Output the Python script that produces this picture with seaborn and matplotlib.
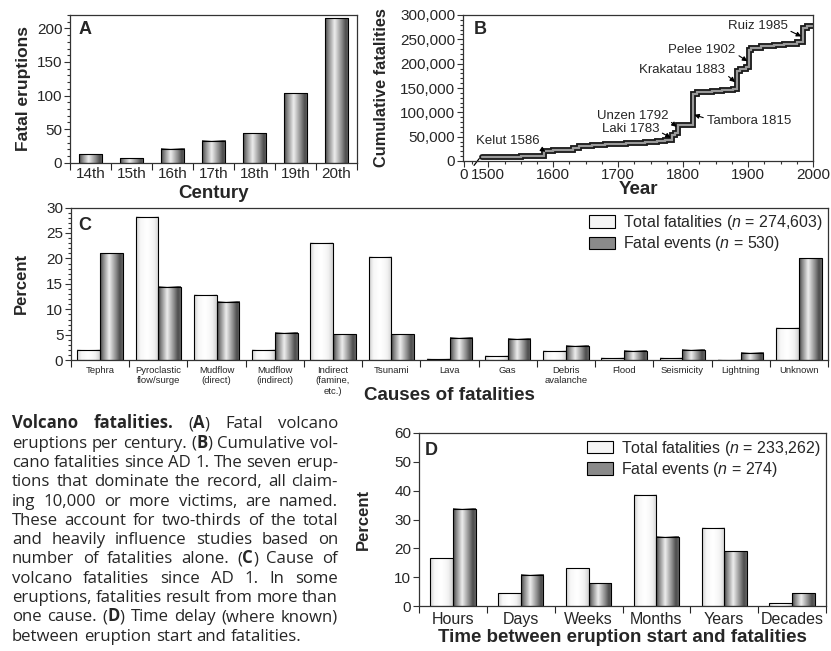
import numpy as np
import pandas as pd
import matplotlib
matplotlib.use("Agg")
import matplotlib.pyplot as plt
import seaborn as sns
from matplotlib.patches import Patch
from matplotlib.ticker import MultipleLocator, FuncFormatter

# ---- panel A: fatal eruptions per century ----
centuries = ["14th", "15th", "16th", "17th", "18th", "19th", "20th"]
fatal_eruptions = [13, 7, 21, 33, 44, 104, 215]

# ---- panel B: cumulative fatalities (step curve) ----
b_years = [1490, 1550, 1586, 1600, 1631, 1640, 1660, 1680, 1712, 1741, 1760, 1772,
           1783, 1788, 1792, 1815, 1822, 1845, 1860, 1877, 1883, 1888, 1897, 1902,
           1905, 1920, 1940, 1955, 1975, 1985, 1991, 2000]
b_cumulative = [8500, 10500, 20000, 22500, 27000, 30000, 32000, 34000, 37000, 39000,
                41000, 43000, 53000, 57000, 73000, 138000, 141000, 143000, 145000,
                147000, 184000, 190000, 193000, 229000, 233000, 236000, 238000,
                241000, 244000, 273000, 278000, 278000]
b_named = ["Kelut 1586", "Laki 1783", "Unzen 1792", "Tambora 1815",
           "Krakatau 1883", "Pelee 1902", "Ruiz 1985"]
b_named_year = [1588, 1781, 1790, 1817, 1880, 1899, 1982]
b_named_value = [19000, 48000, 70000, 95000, 162000, 205000, 256000]

# ---- panel C: causes of fatalities ----
causes = ["Tephra", "Pyroclastic\nflow/surge", "Mudflow\n(direct)", "Mudflow\n(indirect)",
          "Indirect\n(famine,\netc.)", "Tsunami", "Lava", "Gas", "Debris\navalanche",
          "Flood", "Seismicity", "Lightning", "Unknown"]
c_total = [2.1, 28.2, 12.9, 2.0, 23.0, 20.3, 0.3, 0.8, 1.8, 0.5, 0.4, 0.1, 6.3]
c_events = [21.0, 14.4, 11.5, 5.4, 5.1, 5.1, 4.4, 4.2, 2.9, 1.8, 2.0, 1.4, 20.0]

# ---- panel D: time between eruption start and fatalities ----
delays = ["Hours", "Days", "Weeks", "Months", "Years", "Decades"]
d_total = [16.6, 4.4, 13.1, 38.5, 27.1, 0.9]
d_events = [33.7, 10.9, 7.9, 24.1, 19.0, 4.4]

caption_lines = [
    "**Volcano fatalities.** (**A**) Fatal volcano",
    "eruptions per century. (**B**) Cumulative vol-",
    "cano fatalities since AD 1. The seven erup-",
    "tions that dominate the record, all claim-",
    "ing 10,000 or more victims, are named.",
    "These account for two-thirds of the total",
    "and heavily influence studies based on",
    "number of fatalities alone. (**C**) Cause of",
    "volcano fatalities since AD 1. In some",
    "eruptions, fatalities result from more than",
    "one cause. (**D**) Time delay (where known)",
    "between eruption start and fatalities.",
]

sns.set_theme(style="ticks")
plt.rcParams["font.family"] = ["Liberation Sans", "DejaVu Sans"]
plt.rcParams["mathtext.fontset"] = "custom"
plt.rcParams["mathtext.it"] = "Liberation Sans:italic"
plt.rcParams["mathtext.rm"] = "Liberation Sans"
CAP_FONT = ["Open Sans", "DejaVu Sans"]

W, H = 831, 651
fig = plt.figure(figsize=(W / 100, H / 100), dpi=100)


def px_axes(left, top, right, bottom):
    return fig.add_axes([left / W, 1 - bottom / H, (right - left) / W, (bottom - top) / H])


DARK = ([0, 0.12, 0.4, 0.7, 0.88, 1], [0.28, 0.5, 0.93, 0.55, 0.3, 0.4])
LIGHT = ([0, 0.2, 0.5, 0.8, 1], [0.82, 0.97, 1.0, 0.95, 0.82])


def shade(ax, bars, profile):
    g = np.interp(np.linspace(0, 1, 48), profile[0], profile[1])[np.newaxis, :]
    for bar in bars:
        x, y = bar.get_x(), bar.get_y()
        w, h = bar.get_width(), bar.get_height()
        ax.imshow(g, extent=(x, x + w, y, y + h), aspect="auto", cmap="gray",
                  vmin=0, vmax=1, zorder=1.5, interpolation="bilinear")
        bar.set_facecolor("none")
        bar.set_zorder(2)


def style_axes(ax, n=None, tick_size=11):
    for s in ax.spines.values():
        s.set_visible(True)
        s.set_linewidth(0.9)
        s.set_color("#333333")
    ax.tick_params(axis="y", which="both", direction="out", labelsize=tick_size,
                   pad=1.5, width=0.8, color="#333333")
    ax.tick_params(axis="y", which="major", length=4)
    ax.tick_params(axis="y", which="minor", length=2)
    if n is not None:
        ax.set_xticks(np.arange(n + 1) - 0.5)
        ax.set_xticklabels([])
        ax.tick_params(axis="x", which="major", length=5, width=0.8, direction="out")
        ax.set_xlim(-0.5, n - 0.5)


def place_labels(ax, box, xlabel, xl_y, ylabel, yl_x, xsize=13.5, ysize=12):
    left, top, right, bottom = box
    ax.set_xlabel(xlabel, fontsize=xsize, fontweight="bold")
    ax.set_ylabel(ylabel, fontsize=ysize, fontweight="bold")
    ax.xaxis.set_label_coords(0.5, (bottom - xl_y) / (bottom - top))
    ax.yaxis.set_label_coords((yl_x - left) / (right - left), 0.5)
    ax.xaxis.label.set_va("center")
    ax.yaxis.label.set_va("center")


# ================= Panel A =================
boxA = (70, 15, 357, 162.7)
axA = px_axes(*boxA)
dfA = pd.DataFrame({"century": centuries, "count": fatal_eruptions})
sns.barplot(data=dfA, x="century", y="count", order=centuries, width=0.57,
            color="gray", edgecolor="black", linewidth=0.8, ax=axA)
shade(axA, axA.patches, DARK)
style_axes(axA, len(centuries))
axA.set_xticks(np.arange(len(centuries)), centuries, minor=True)
axA.tick_params(axis="x", which="minor", length=0, labelsize=11, pad=3)
axA.set_ylim(0, 220)
axA.yaxis.set_major_locator(MultipleLocator(50))
axA.yaxis.set_minor_locator(MultipleLocator(10))
place_labels(axA, boxA, "Century", 193, "Fatal eruptions", 23, ysize=12.5)
axA.text(0.03, 0.9, "A", transform=axA.transAxes, fontsize=13, fontweight="bold",
         va="center")

# ================= Panel B =================
boxB = (463, 15, 813, 161)
axB = px_axes(*boxB)
sns.lineplot(x=b_years, y=b_cumulative, drawstyle="steps-post", color="#1a1a1a",
             lw=4.2, ax=axB, solid_joinstyle="miter")
sns.lineplot(x=b_years, y=b_cumulative, drawstyle="steps-post", color="#9a9a9a",
             lw=1.6, ax=axB, solid_joinstyle="miter")
style_axes(axB)
axB.set_xlim(1461, 2000)
axB.set_ylim(0, 300000)
axB.set_xticks([1462, 1500, 1600, 1700, 1800, 1900, 2000],
               ["0", "1500", "1600", "1700", "1800", "1900", "2000"])
axB.xaxis.set_minor_locator(MultipleLocator(25))
axB.yaxis.set_major_locator(MultipleLocator(50000))
axB.yaxis.set_minor_locator(MultipleLocator(10000))
axB.yaxis.set_major_formatter(FuncFormatter(lambda v, p: f"{int(v):,}"))
axB.tick_params(axis="x", which="both", direction="out", labelsize=11, pad=1,
                width=0.8, color="#333333")
axB.tick_params(axis="x", which="major", length=4)
axB.tick_params(axis="x", which="minor", length=2)
axB.plot([1478, 1486], [-9000, 5000], color="black", lw=0.9, clip_on=False)
place_labels(axB, boxB, "Year", 190, "Cumulative fatalities", 381, ysize=11.8)
axB.text(0.03, 0.9, "B", transform=axB.transAxes, fontsize=13, fontweight="bold",
         va="center")

b_text_pos = [(1530, 41000, "center", (0.95, 0.1)),
              (1763, 65700, "right", (1, 0.3)),
              (1777, 92500, "right", (1, 0.2)),
              (1836, 82000, "left", (0, 0.7)),
              (1865, 187000, "right", (1, 0.2)),
              (1881, 228000, "right", (1, 0.2)),
              (1961, 277000, "right", (1, 0.2))]
for name, yr, val, (tx, ty, ha, rel) in zip(b_named, b_named_year, b_named_value, b_text_pos):
    axB.annotate(name, xy=(yr, val), xytext=(tx, ty), ha=ha, va="center", fontsize=9.5,
                 arrowprops=dict(arrowstyle="-|>", color="black", lw=0.8,
                                 mutation_scale=7, shrinkA=0, shrinkB=0, relpos=rel))

# ================= Panel C =================
boxC = (71, 207.5, 828, 360.3)
axC = px_axes(*boxC)
dfC = pd.DataFrame({"cause": causes * 2,
                    "pct": c_total + c_events,
                    "series": ["total"] * len(causes) + ["events"] * len(causes)})
sns.barplot(data=dfC, x="cause", y="pct", hue="series", order=causes,
            hue_order=["total", "events"], palette=["#eeeeee", "#777777"], width=0.78,
            edgecolor="black", linewidth=0.8, saturation=1, legend=False, ax=axC)
shade(axC, axC.containers[0], LIGHT)
shade(axC, axC.containers[1], DARK)
style_axes(axC, len(causes))
axC.set_xticks(np.arange(len(causes)), causes, minor=True)
axC.tick_params(axis="x", which="minor", length=0, labelsize=6.8, pad=4)
axC.set_ylim(0, 30)
axC.yaxis.set_major_locator(MultipleLocator(5))
axC.yaxis.set_minor_locator(MultipleLocator(1))
place_labels(axC, boxC, "Causes of fatalities", 395, "Percent", 21)
axC.text(0.01, 0.88, "C", transform=axC.transAxes, fontsize=13, fontweight="bold",
         va="center")
handles = [Patch(facecolor="#f4f4f4", edgecolor="black", lw=0.8,
                 label=r"Total fatalities ($n$ = 274,603)"),
           Patch(facecolor="#8a8a8a", edgecolor="black", lw=0.8,
                 label=r"Fatal events ($n$ = 530)")]
axC.legend(handles=handles, loc="upper right", frameon=False, fontsize=11.5,
           handlelength=1.6, handleheight=0.8, handletextpad=0.5, labelspacing=0.15,
           borderaxespad=0.15, borderpad=0.2)

# ================= Panel D =================
boxD = (419, 433, 826, 606)
axD = px_axes(*boxD)
dfD = pd.DataFrame({"delay": delays * 2,
                    "pct": d_total + d_events,
                    "series": ["total"] * len(delays) + ["events"] * len(delays)})
sns.barplot(data=dfD, x="delay", y="pct", hue="series", order=delays,
            hue_order=["total", "events"], palette=["#eeeeee", "#777777"], width=0.67,
            edgecolor="black", linewidth=0.8, saturation=1, legend=False, ax=axD)
shade(axD, axD.containers[0], LIGHT)
shade(axD, axD.containers[1], DARK)
style_axes(axD, len(delays))
axD.set_xticks(np.arange(len(delays)), delays, minor=True)
axD.tick_params(axis="x", which="minor", length=0, labelsize=11.5, pad=4)
axD.set_ylim(0, 60)
axD.yaxis.set_major_locator(MultipleLocator(10))
axD.yaxis.set_minor_locator(MultipleLocator(10))
place_labels(axD, boxD, "Time between eruption start and fatalities", 637, "Percent", 363)
axD.text(0.015, 0.9, "D", transform=axD.transAxes, fontsize=13, fontweight="bold",
         va="center")
handles = [Patch(facecolor="#f4f4f4", edgecolor="black", lw=0.8,
                 label=r"Total fatalities ($n$ = 233,262)"),
           Patch(facecolor="#8a8a8a", edgecolor="black", lw=0.8,
                 label=r"Fatal events ($n$ = 274)")]
axD.legend(handles=handles, loc="upper right", frameon=False, fontsize=11.5,
           handlelength=1.6, handleheight=0.8, handletextpad=0.5, labelspacing=0.15,
           borderaxespad=0.15, borderpad=0.2)


# ================= Caption =================
def draw_caption(lines, left_px, right_px, first_base, step, size):
    renderer = fig.canvas.get_renderer()
    bold = False
    for i, line in enumerate(lines):
        y = 1 - (first_base + i * step) / H
        placed = []
        total = 0
        for raw in line.split(" "):
            runs = []
            for j, part in enumerate(raw.split("**")):
                if j > 0:
                    bold = not bold
                if part:
                    runs.append((part, bold))
            arts = []
            w = 0
            for txt, b in runs:
                t = fig.text(0, y, txt, fontsize=size, family=CAP_FONT,
                             fontweight="bold" if b else "normal", va="baseline")
                tw = t.get_window_extent(renderer).width
                arts.append((t, tw))
                w += tw
            placed.append(arts)
            total += w
        if i < len(lines) - 1 and len(placed) > 1:
            gap = (right_px - left_px - total) / (len(placed) - 1)
        else:
            gap = size * 0.27 * 100 / 72
        x = left_px
        for arts in placed:
            for t, tw in arts:
                t.set_x(x / W)
                x += tw
            x += gap


draw_caption(caption_lines, 12, 338, 428.3, 19.3, 12.1)

fig.savefig("out.png", dpi=100)
